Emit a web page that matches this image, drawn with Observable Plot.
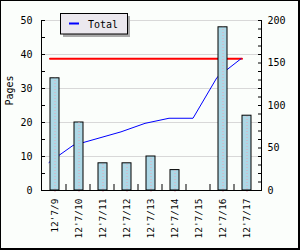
<!DOCTYPE html>
<html>
<head>
<meta charset="utf-8">
<script src="https://cdn.jsdelivr.net/npm/d3@7"></script>
<script src="https://cdn.jsdelivr.net/npm/@observablehq/plot@0.6"></script>
<style>
  html, body { margin: 0; padding: 0; background: #fbfefb; }
  svg { display: block; }
</style>
</head>
<body>
<div id="chart"></div>
<script>
// ---- data ----
const dates = ["12'7/9", "12'7/10", "12'7/11", "12'7/12", "12'7/13", "12'7/14", "12'7/15", "12'7/16", "12'7/17"];
const pages = [33, 20, 8, 8, 10, 6, 0, 48, 22];
const total = [33, 53, 61, 69, 79, 85, 85, 133, 155];
const target = 155;
const leftTicks = [0, 10, 20, 30, 40, 50];
const leftMinorTicks = [0, 5, 10, 15, 20, 25, 30, 35, 40, 45, 50];
const rightTicks = [0, 50, 100, 150, 200];
const rightMinorTicks = [0, 10, 20, 30, 40, 50, 60, 70, 80, 90, 100, 110, 120, 130, 140, 150, 160, 170, 180, 190, 200];
const gridTicks = [10, 20, 30, 40, 50];
const legendLabel = "Total";
const yLabel = "Pages";

const ratio = 4; // right axis (0–200) over left axis (0–50)
const rows = dates.map((d, i) => ({date: d, pages: pages[i], total: total[i], target}));

const font = "DejaVu Sans Mono";

const chart = Plot.plot({
  width: 300,
  height: 250,
  marginLeft: 41,
  marginRight: 39,
  marginTop: 20,
  marginBottom: 60,
  style: {fontFamily: font, fontSize: "10px", background: "#fbfefb", color: "black", overflow: "visible"},
  x: {domain: dates, paddingInner: 0.62, paddingOuter: 0.31, label: null},
  y: {domain: [0, 50], label: null},
  marks: [
    Plot.gridY(gridTicks, {stroke: "#d8d8d8", strokeOpacity: 1}),
    Plot.line(rows, {x: "date", y: d => d.target / ratio, stroke: "red", strokeWidth: 2, dx: -5}),
    Plot.line(rows, {x: "date", y: d => d.total / ratio, stroke: "blue", strokeWidth: 1, dx: -6}),
    Plot.barY(rows, {x: "date", y: "pages", fill: "#add8e6", stroke: "black", strokeWidth: 1}),
    Plot.ruleX(rows.filter(d => d.pages > 0), {x: "date", y1: 0, y2: "pages", stroke: "#e4a6b8", strokeDasharray: "1,2", insetTop: 2}),
    // axis lines
    Plot.ruleY([0], {stroke: "black"}),
    Plot.frame({anchor: "left", stroke: "black"}),
    Plot.frame({anchor: "right", stroke: "black"}),
    // left axis
    Plot.axisY(leftMinorTicks, {tickSize: -4, tickFormat: () => "", label: null}),
    Plot.axisY(leftTicks, {tickSize: 0, tickPadding: 9, label: null}),
    // right axis
    Plot.axisY(rightMinorTicks.map(v => v / ratio), {anchor: "right", tickSize: -4, tickFormat: () => "", label: null}),
    Plot.axisY(rightTicks.map(v => v / ratio), {anchor: "right", tickSize: 0, tickPadding: 6, tickFormat: d => d * ratio, label: null}),
    // bottom axis
    Plot.axisX(dates.slice(0, -1), {tickSize: -6, dx: 11, tickFormat: () => "", label: null}),
    Plot.axisX({tickSize: 0, tickPadding: 8, tickRotate: -90, fontSize: 9.5, label: null}),
    // y label
    Plot.text([yLabel], {frameAnchor: "left", dx: -32, rotate: -90, fontSize: 10})
  ]
});

document.getElementById("chart").appendChild(chart);

// legend box and outer frame
const svg = d3.select(chart);
const lg = svg.append("g");
lg.append("rect").attr("x", 63).attr("y", 16).attr("width", 67).attr("height", 21).attr("fill", "#a9a9a9");
lg.append("rect").attr("x", 60.5).attr("y", 13.5).attr("width", 67).attr("height", 20.5)
  .attr("fill", "#ebe8ee").attr("stroke", "black");
lg.append("line").attr("x1", 69).attr("x2", 79).attr("y1", 23.5).attr("y2", 23.5)
  .attr("stroke", "blue").attr("stroke-width", 2);
lg.append("text").attr("x", 88).attr("y", 24).attr("dy", "0.35em").attr("text-anchor", "start")
  .attr("font-family", font).attr("font-size", 10).attr("fill", "black").text(legendLabel);
svg.append("rect").attr("x", 0.5).attr("y", 0.5).attr("width", 298).attr("height", 248)
  .attr("fill", "none").attr("stroke", "black");
svg.append("path").attr("d", "M299.5,0V250M0,249.5H300").attr("stroke", "black").attr("fill", "none");
</script>
</body>
</html>
